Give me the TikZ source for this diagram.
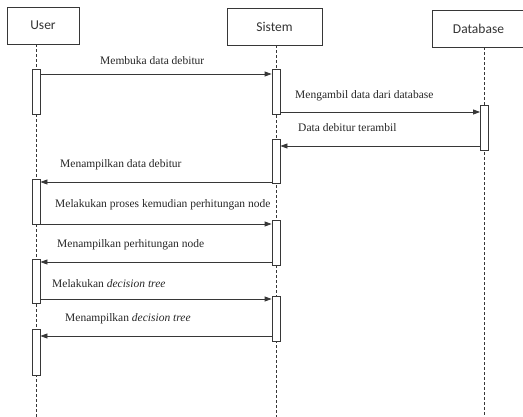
\documentclass[tikz,border=0pt]{standalone}
\usepackage{fontspec}
\setmainfont{Liberation Serif}
\newfontfamily\hdfont{Carlito}
\usetikzlibrary{arrows.meta}
\definecolor{ln}{RGB}{55,55,55}
\tikzset{hd/.style={draw=ln,line width=.8pt,minimum height=37pt,font=\hdfont\fontsize{13.5}{16}\selectfont,text=black!80},
 act/.style={draw=ln,fill=white,line width=.8pt,minimum width=8pt,inner sep=0pt},
 life/.style={draw=ln,line width=.7pt,dash pattern=on 3pt off 2pt},
 msg/.style={draw=ln,line width=.8pt,-{Triangle[length=7pt,width=5pt]}},
 lbl/.style={anchor=west,inner sep=0pt,font=\fontsize{11.5}{14}\selectfont,text=black!85}}
\begin{document}
\begin{tikzpicture}[x=1pt,y=-1pt]
\useasboundingbox (0,0) rectangle (523,417);
\node[hd,minimum width=72pt] (user) at (43,25.5) {User};
\node[hd,minimum width=95pt] (sis) at (274.5,26.5) {Sistem};
\node[hd,minimum width=93pt] (db) at (478.5,28.5) {Database};
\coordinate (ue) at (36,417);\coordinate (se) at (276,417);\coordinate (de) at (484.5,417);
\draw[life] (user.south -| ue)--(ue);\draw[life] (sis.south -| se)--(se);\draw[life] (db.south -| de)--(de);
% activation bars
\node[act,minimum height=45pt] (u1) at (36,91.5) {};\node[act,minimum height=45pt] (s1) at (276,91.5) {};
\node[act,minimum height=45pt] (d1) at (484.5,127.5) {};\node[act,minimum height=44pt] (s2) at (276,161) {};
\node[act,minimum height=45pt] (u2) at (36,201.5) {};\node[act,minimum height=45pt] (s3) at (276,242.5) {};
\node[act,minimum height=44pt] (u3) at (36,281) {};\node[act,minimum height=45pt] (s4) at (276,318.5) {};
\node[act,minimum height=46pt] (u4) at (36,352) {};
% messages
\draw[msg] (u1.east |- 0,74)--(s1.west |- 0,74);\node[lbl] (m1) at (100,61) {Membuka data debitur};
\draw[msg] (s1.east |- 0,112)--(d1.west |- 0,112);\node[lbl] (m2) at (295,96) {Mengambil data dari database};
\draw[msg] (d1.west |- 0,146)--(s2.east |- 0,146);\node[lbl] (m3) at (298,128) {Data debitur terambil};
\draw[msg] (s2.west |- 0,182)--(u2.east |- 0,182);\node[lbl] (m4) at (60,165) {Menampilkan data debitur};
\draw[msg] (u2.east |- 0,224)--(s3.west |- 0,224);\node[lbl] (m5) at (55,205) {Melakukan proses kemudian perhitungan node};
\draw[msg] (s3.west |- 0,262)--(u3.east |- 0,262);\node[lbl] (m6) at (57,245) {Menampilkan perhitungan node};
\draw[msg] (u3.east |- 0,299)--(s4.west |- 0,299);\node[lbl] (m7) at (52,284) {Melakukan \textit{decision tree}};
\draw[msg] (s4.west |- 0,336)--(u4.east |- 0,336);\node[lbl] (m8) at (65,319) {Menampilkan \textit{decision tree}};
\end{tikzpicture}
\end{document}
